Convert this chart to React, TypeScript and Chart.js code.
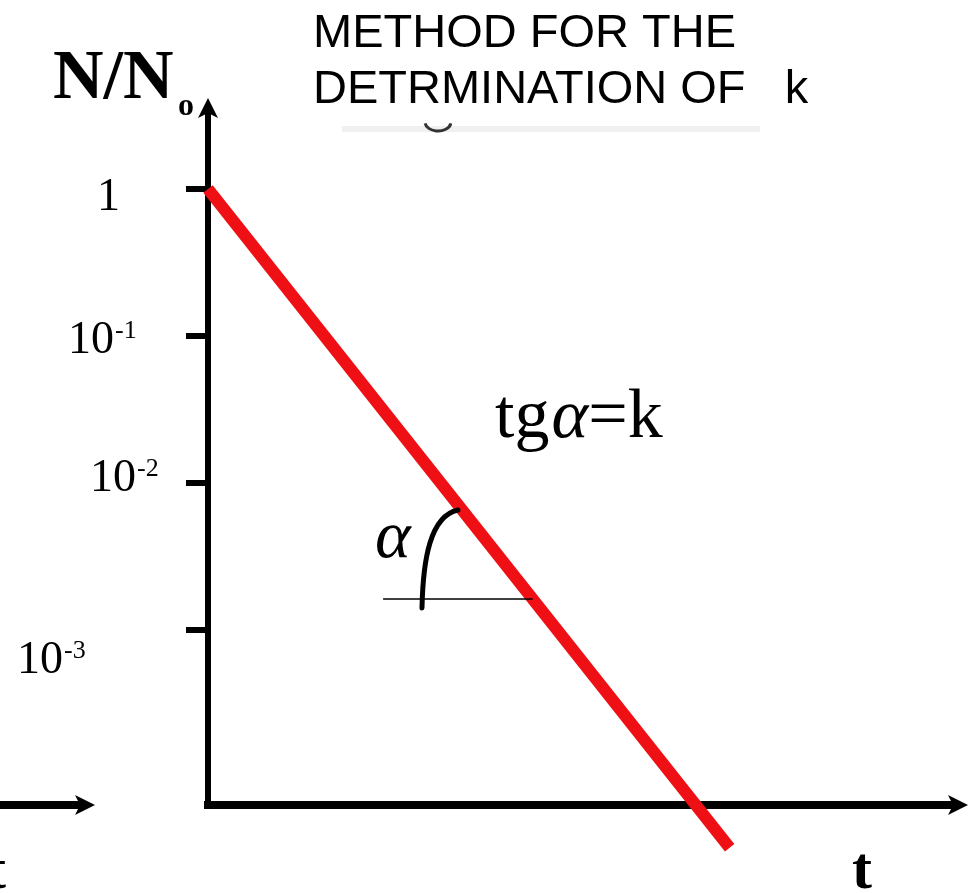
import React, { useEffect, useRef } from 'react';
import { Chart, registerables } from 'chart.js';

Chart.register(...registerables);

// ---- data ----
const TIME_POINTS = [0, 7.03];
const RATIO_VALUES = [1, 3.3e-5];
const TICK_VALUES = [1, 0.1, 0.01, 0.001];
const TICK_BASES = ['1', '10', '10', '10'];
const TICK_EXPONENTS = ['', '-1', '-2', '-3'];
const TITLE_LINES = ['METHOD FOR THE', 'DETRMINATION OF   k'];
const Y_AXIS_LABEL = 'N/N';
const Y_AXIS_SUB = 'o';
const X_AXIS_LABEL = 't';
const SLOPE_LABEL_PARTS = ['tg', 'α', '=k'];
const ANGLE_LABEL = 'α';
const X_MIN = 0;
const X_MAX = 10;
const Y_MIN = Math.pow(10, -4.19);
const Y_MAX = Math.pow(10, 0.497);
const ANGLE_LEVEL = Math.pow(10, -2.789);
const ANGLE_REF_START = 2.36;

// ---- layout (pixels / styles) ----
const W = 978;
const H = 893;
const LABEL_LEFT = [97, 68, 90, 17];
const LABEL_DY = [21, 17, 8, 43];
const RED = 'rgb(238, 16, 20)';
const SERIF = '"Liberation Serif", "Times New Roman", serif';
const SANS = '"Liberation Sans", Arial, sans-serif';

function arrowHead(ctx: CanvasRenderingContext2D, tipX: number, tipY: number, dir: 'right' | 'up') {
  const len = 20;
  const half = 10;
  const notch = 5;
  ctx.beginPath();
  if (dir === 'right') {
    ctx.moveTo(tipX, tipY);
    ctx.lineTo(tipX - len, tipY - half);
    ctx.lineTo(tipX - len + notch, tipY);
    ctx.lineTo(tipX - len, tipY + half);
  } else {
    ctx.moveTo(tipX, tipY);
    ctx.lineTo(tipX - half, tipY + len);
    ctx.lineTo(tipX, tipY + len - notch);
    ctx.lineTo(tipX + half, tipY + len);
  }
  ctx.closePath();
  ctx.fill();
}

const decorPlugin = {
  id: 'decor',
  afterDraw(chart: any) {
    const ctx: CanvasRenderingContext2D = chart.ctx;
    const xs = chart.scales.x;
    const ys = chart.scales.y;
    const area = chart.chartArea;
    ctx.save();
    ctx.fillStyle = '#000';
    ctx.strokeStyle = '#000';
    ctx.textBaseline = 'alphabetic';
    ctx.textAlign = 'left';

    // axis arrowheads
    const axisY = area.bottom;
    const axisX = area.left;
    arrowHead(ctx, area.right + 18, axisY, 'right');
    ctx.fillRect(area.right - 2, axisY - 4, 8, 8);
    arrowHead(ctx, axisX, area.top - 18, 'up');
    ctx.fillRect(axisX - 3, area.top - 6, 6, 8);

    // fragment of a neighbouring axis on the left edge
    ctx.fillRect(0, axisY - 4, 80, 8);
    arrowHead(ctx, 95, axisY, 'right');
    ctx.font = `bold 60px ${SERIF}`;
    ctx.fillText(X_AXIS_LABEL, -14, 888);

    // tick labels
    TICK_VALUES.forEach((v, i) => {
      const py = ys.getPixelForValue(v) + LABEL_DY[i];
      ctx.font = `46px ${SERIF}`;
      ctx.fillText(TICK_BASES[i], LABEL_LEFT[i], py);
      if (TICK_EXPONENTS[i]) {
        const w = ctx.measureText(TICK_BASES[i]).width;
        ctx.font = `26px ${SERIF}`;
        ctx.fillText(TICK_EXPONENTS[i], LABEL_LEFT[i] + w + 1, py - 15);
      }
    });

    // axis labels
    ctx.font = `bold 70px ${SERIF}`;
    ctx.fillText(Y_AXIS_LABEL, 53, 98);
    ctx.font = `bold 32px ${SERIF}`;
    ctx.fillText(Y_AXIS_SUB, 178, 115);
    ctx.font = `bold 60px ${SERIF}`;
    ctx.fillText(X_AXIS_LABEL, 852, 888);

    // title
    ctx.font = `47px ${SANS}`;
    ctx.fillText(TITLE_LINES[0], 313, 47);
    ctx.fillText(TITLE_LINES[1], 313, 103);

    // faint ghost strip under the title
    ctx.fillStyle = '#f0f0f0';
    ctx.fillRect(342, 126, 418, 6);
    ctx.strokeStyle = '#333';
    ctx.lineWidth = 3;
    ctx.beginPath();
    ctx.ellipse(438, 122, 13, 9, 0, 0.15, Math.PI - 0.15);
    ctx.stroke();
    ctx.fillStyle = '#000';
    ctx.strokeStyle = '#000';

    // slope annotation
    let x = 495;
    const base = 437;
    ctx.font = `70px ${SERIF}`;
    ctx.fillText(SLOPE_LABEL_PARTS[0], x, base);
    x += ctx.measureText(SLOPE_LABEL_PARTS[0]).width + 2;
    ctx.font = `italic 70px ${SERIF}`;
    ctx.fillText(SLOPE_LABEL_PARTS[1], x, base);
    x += ctx.measureText(SLOPE_LABEL_PARTS[1]).width;
    ctx.font = `70px ${SERIF}`;
    ctx.fillText(SLOPE_LABEL_PARTS[2], x, base);

    // angle reference line, ending on the fitted line
    const lvl = Math.log10(ANGLE_LEVEL);
    const l0 = Math.log10(RATIO_VALUES[0]);
    const l1 = Math.log10(RATIO_VALUES[1]);
    const tHit = TIME_POINTS[0] + ((lvl - l0) / (l1 - l0)) * (TIME_POINTS[1] - TIME_POINTS[0]);
    const refY = ys.getPixelForValue(ANGLE_LEVEL);
    ctx.lineWidth = 1.5;
    ctx.beginPath();
    ctx.moveTo(xs.getPixelForValue(ANGLE_REF_START), refY);
    ctx.lineTo(xs.getPixelForValue(tHit), refY);
    ctx.stroke();

    // angle arc
    ctx.lineWidth = 5;
    ctx.lineCap = 'round';
    ctx.beginPath();
    ctx.moveTo(422, 608);
    ctx.bezierCurveTo(423, 560, 430, 516, 458, 510);
    ctx.stroke();

    ctx.font = `italic 68px ${SERIF}`;
    ctx.fillText(ANGLE_LABEL, 375, 557);

    ctx.restore();
  },
};

export default function App() {
  const ref = useRef<HTMLCanvasElement | null>(null);

  useEffect(() => {
    document.body.style.margin = '0';
    const canvas = ref.current;
    if (!canvas) return;
    const chart = new Chart(canvas, {
      type: 'line',
      data: {
        datasets: [
          {
            data: TIME_POINTS.map((t, i) => ({ x: t, y: RATIO_VALUES[i] })),
            borderColor: RED,
            backgroundColor: RED,
            borderWidth: 12,
            borderCapStyle: 'butt',
            pointRadius: 0,
            tension: 0,
            clip: false as any,
          },
        ],
      },
      options: {
        animation: false,
        responsive: false,
        maintainAspectRatio: false,
        devicePixelRatio: 1,
        layout: { padding: { left: 186, top: 116, right: 28, bottom: 88 } },
        plugins: { legend: { display: false }, tooltip: { enabled: false }, title: { display: false } },
        scales: {
          x: {
            type: 'linear',
            min: X_MIN,
            max: X_MAX,
            ticks: { display: false },
            grid: { display: false, drawTicks: false, tickLength: 0 },
            border: { display: true, width: 8, color: '#000' },
          },
          y: {
            type: 'logarithmic',
            min: Y_MIN,
            max: Y_MAX,
            afterBuildTicks: (scale: any) => {
              scale.ticks = TICK_VALUES.map((v) => ({ value: v }));
            },
            ticks: { display: false },
            grid: {
              display: true,
              drawOnChartArea: false,
              drawTicks: true,
              tickLength: 22,
              lineWidth: 6,
              color: '#000',
            },
            border: { display: true, width: 6, color: '#000' },
          },
        },
      } as any,
      plugins: [decorPlugin],
    });
    return () => chart.destroy();
  }, []);

  return (
    <div style={{ width: W, height: H, background: '#fff' }}>
      <canvas ref={ref} width={W} height={H} style={{ width: W, height: H, display: 'block' }} />
    </div>
  );
}
